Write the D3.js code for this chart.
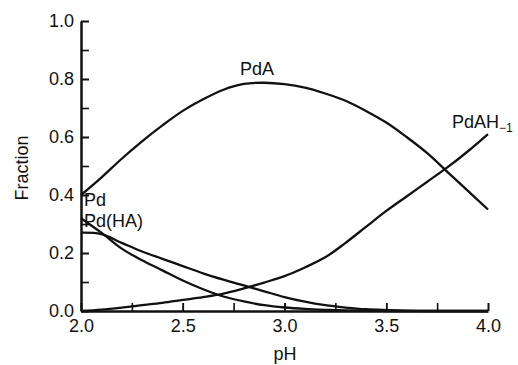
<!DOCTYPE html>
<html>
<head>
<meta charset="utf-8">
<script src="https://d3js.org/d3.v7.min.js"></script>
<style>
  body { margin: 0; background: #fff; }
  text { font-family: "Liberation Sans", Arial, sans-serif; fill: #111; }
</style>
</head>
<body>
<script>
// pH grid and fractions
var ph      = [2.0, 2.1, 2.2, 2.3, 2.4, 2.5, 2.6, 2.7, 2.8, 2.9, 3.0, 3.1, 3.2, 3.3, 3.4, 3.5, 3.6, 3.7, 3.8, 3.9, 4.0];
var pdA     = [0.40, 0.46, 0.525, 0.585, 0.64, 0.69, 0.73, 0.763, 0.783, 0.787, 0.782, 0.77, 0.75, 0.725, 0.69, 0.65, 0.60, 0.545, 0.48, 0.415, 0.35];
var pdAH    = [0.0, 0.005, 0.012, 0.02, 0.028, 0.038, 0.048, 0.06, 0.078, 0.098, 0.12, 0.15, 0.185, 0.235, 0.29, 0.345, 0.395, 0.445, 0.495, 0.55, 0.61];
var pdHA    = [0.27, 0.265, 0.235, 0.205, 0.18, 0.155, 0.13, 0.108, 0.088, 0.068, 0.048, 0.032, 0.02, 0.012, 0.006, 0.003, 0.001, 0, 0, 0, 0];
var pd      = [0.32, 0.27, 0.215, 0.175, 0.14, 0.105, 0.075, 0.05, 0.033, 0.02, 0.012, 0.007, 0.004, 0.002, 0.001, 0, 0, 0, 0, 0, 0];

var xTicks = [2.0, 2.5, 3.0, 3.5, 4.0];
var xMinor = [2.0, 2.25, 2.5, 2.75, 3.0, 3.25, 3.5, 3.75, 4.0];
var yTicks = [0, 0.2, 0.4, 0.6, 0.8, 1.0];
var yMinor = [0, 0.1, 0.2, 0.3, 0.4, 0.5, 0.6, 0.7, 0.8, 0.9, 1.0];

var svg = d3.select("body").append("svg")
    .attr("width", 518)
    .attr("height", 365);

var x = d3.scaleLinear().domain([2, 4]).range([81, 488]);
var y = d3.scaleLinear().domain([0, 1]).range([311, 21]);

// minor ticks (no labels)
svg.append("g")
    .attr("transform", "translate(0,311)")
    .call(d3.axisBottom(x).tickValues(xMinor).tickSize(-8).tickFormat(""))
    .call(function(g) { g.select(".domain").remove(); });
svg.append("g")
    .attr("transform", "translate(81,0)")
    .call(d3.axisLeft(y).tickValues(yMinor).tickSize(-8).tickFormat(""))
    .call(function(g) { g.select(".domain").remove(); });

// labelled axes
svg.append("g")
    .attr("transform", "translate(0,311)")
    .call(d3.axisBottom(x).tickValues(xTicks).tickSize(-8).tickSizeOuter(0)
        .tickPadding(8).tickFormat(d3.format(".1f")));
svg.append("g")
    .attr("transform", "translate(81,0)")
    .call(d3.axisLeft(y).tickValues(yTicks).tickSize(-8).tickSizeOuter(0)
        .tickPadding(7).tickFormat(d3.format(".1f")));

svg.selectAll(".domain").attr("stroke", "#111").attr("stroke-width", 2.5);
svg.selectAll(".tick line").attr("stroke", "#111").attr("stroke-width", 1.6);
svg.selectAll(".tick text").style("font-size", "18px").attr("fill", "#111");

// curves
var series = [pdA, pdAH, pdHA, pd];
var line = d3.line()
    .x(function(d, i) { return x(ph[i]); })
    .y(function(d) { return y(d); })
    .curve(d3.curveCatmullRom);

svg.selectAll("path.curve")
    .data(series)
    .enter()
    .append("path")
    .attr("class", "curve")
    .attr("d", line)
    .attr("fill", "none")
    .attr("stroke", "#111")
    .attr("stroke-width", 2.3);

// axis titles
svg.append("text")
    .attr("x", 285)
    .attr("y", 360)
    .attr("text-anchor", "middle")
    .style("font-size", "18px")
    .text("pH");
svg.append("text")
    .attr("transform", "translate(28,168) rotate(-90)")
    .attr("text-anchor", "middle")
    .style("font-size", "18px")
    .text("Fraction");

// curve labels
svg.append("text").attr("x", x(2.865)).attr("y", y(0.814))
    .attr("text-anchor", "middle").style("font-size", "18px").text("PdA");
svg.append("text").attr("x", x(2.015)).attr("y", y(0.362))
    .style("font-size", "18px").text("Pd");
svg.append("text").attr("x", x(2.015)).attr("y", y(0.29))
    .style("font-size", "18px").text("Pd(HA)");
var lab = svg.append("text").attr("x", x(3.823)).attr("y", y(0.63))
    .style("font-size", "18px");
lab.append("tspan").text("PdAH");
lab.append("tspan").attr("dy", 4).style("font-size", "12px").text("\u22121");
</script>
</body>
</html>
